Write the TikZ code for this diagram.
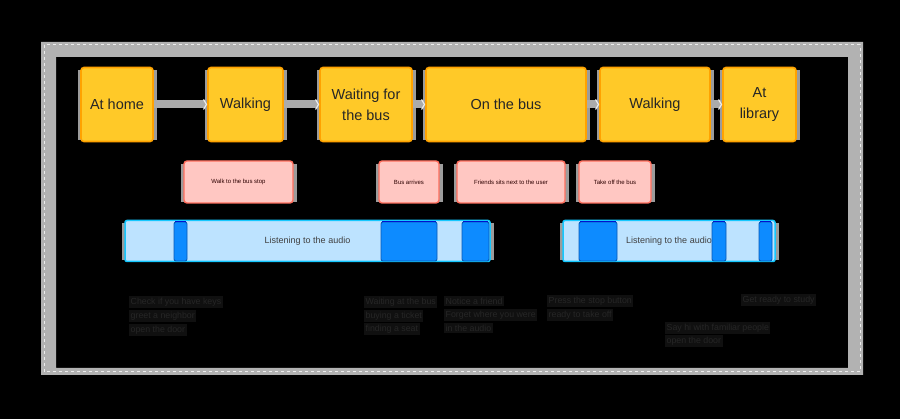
\documentclass[tikz,border=0pt]{standalone}
\usepackage{fontspec}
\setmainfont{Liberation Sans}
\usetikzlibrary{arrows.meta,backgrounds}
\definecolor{ybg}{HTML}{FFC928}
\definecolor{yborder}{HTML}{FFA200}
\definecolor{pbg}{HTML}{FFC7C2}
\definecolor{pborder}{HTML}{FF6F5E}
\definecolor{bbg}{HTML}{BDE3FF}
\definecolor{bborder}{HTML}{14C8FF}
\definecolor{dseg}{HTML}{0D8BFF}
\definecolor{dsegb}{HTML}{0A5AB8}
\definecolor{deepblue}{HTML}{0010D0}
\definecolor{shadowg}{HTML}{9C9C9C}
\definecolor{notebg}{HTML}{101010}
\definecolor{notefg}{HTML}{262626}
\definecolor{connc}{HTML}{ABABAB}
\definecolor{framec}{HTML}{B2B2B2}
\begin{document}
\begin{tikzpicture}[x=1pt,y=-1pt,
  ybox/.style={draw=yborder, line width=1.6pt, fill=ybg, rounded corners=3pt,
    minimum height=74pt, inner sep=2pt, align=center,
    font=\fontsize{14.5}{21}\selectfont, text=black!85},
  pbox/.style={draw=pborder, line width=1.4pt, fill=pbg, rounded corners=3pt,
    minimum height=42pt, inner sep=2pt, font=\fontsize{6}{7}\selectfont, text=black!72!red!60!black},
  bbar/.style={draw=bborder, line width=1.5pt, fill=bbg, rounded corners=2pt,
    minimum height=41pt, inner sep=0pt, font=\fontsize{9}{11}\selectfont, text=black!75},
  seg/.style={draw=dsegb, line width=0.9pt, fill=dseg, rounded corners=2pt,
    minimum height=39pt, inner sep=0pt},
  conn/.style={draw=connc, line width=8pt,
    -{Straight Barb[length=3pt,width=10pt,line width=1.2pt,color=white!85!gray]}},
  note/.style={fill=notebg, text=notefg, font=\fontsize{8.8}{10}\selectfont,
    anchor=west, inner xsep=1.5pt, inner ysep=1.5pt}
]
\useasboundingbox (0,0) rectangle (900,419);

% yellow stages
\node[ybox, minimum width=72pt] (home) at (117,104.5) {At home};
\node[ybox, minimum width=75pt] (walk1) at (245.5,104.5) {Walking};
\node[ybox, minimum width=92pt] (wait) at (366,104.5) {Waiting for\\the bus};
\node[ybox, minimum width=160pt] (onbus) at (506,104.5) {On the bus};
\node[ybox, minimum width=110pt] (walk2) at (655,104.5) {Walking};
\node[ybox, minimum width=73pt] (lib) at (759.5,104.5) {At\\library};

% connectors
\draw[conn] (home) -- (walk1);
\draw[conn] (walk1) -- (wait);
\draw[conn] (wait) -- (onbus);
\draw[conn] (onbus) -- (walk2);
\draw[conn] (walk2) -- (lib);

% pink events
\node[pbox, minimum width=109pt] (stop) at (238.5,182) {Walk to the bus stop};
\node[pbox, minimum width=60pt] (arr) at (409,182) {Bus arrives};
\node[pbox, minimum width=108pt] (friend) at (511,182) {Friends sits next to the user};
\node[pbox, minimum width=72pt] (off) at (615,182) {Take off the bus};

% audio bars
\node[bbar, minimum width=365pt] (bar1) at (307.5,241) {Listening to the audio};
\node[bbar, minimum width=212pt] (bar2) at (669,241) {Listening to the audio};
\node[seg, minimum width=13pt] (s1) at (180.5,241.5) {};
\node[seg, minimum width=56pt] (s2) at (409,241.5) {};
\node[seg, minimum width=27pt] (s3) at (475.5,241.5) {};
\node[seg, minimum width=38pt] (s4) at (598,241.5) {};
\node[seg, minimum width=14pt] (s5) at (719,241.5) {};
\node[seg, minimum width=13pt] (s6) at (765.5,241.5) {};
\foreach \s in {s1,s2,s3,s4,s5,s6}
  \draw[deepblue, line width=1.2pt] ([xshift=1.5pt]\s.north west) -- ([xshift=-1.5pt]\s.north east);

% notes
\node[note] (n1a) at (129,302) {Check if you have keys};
\node[note] (n1b) at (129,316) {greet a neighbor};
\node[note] (n1c) at (129,330) {open the door};
\node[note] (n2a) at (364,302) {Waiting at the bus};
\node[note] (n2b) at (364,316) {buying a ticket};
\node[note] (n2c) at (364,329) {finding a seat};
\node[note] (n3a) at (444,301) {Notice a friend};
\node[note] (n3b) at (444,315) {Forget where you were};
\node[note] (n3c) at (444,328) {in the audio};
\node[note] (n4a) at (547,301) {Press the stop button};
\node[note] (n4b) at (547,315) {ready to take off};
\node[note] (n5a) at (741,300) {Get ready to study};
\node[note] (n6a) at (665,328) {Say hi with familiar people};
\node[note] (n6b) at (665,341) {open the door};

\begin{scope}[on background layer]
  \fill[black] (0,0) rectangle (900,419);
  % frame band
  \fill[framec, even odd rule] (41,42) rectangle (863,375) (56,57) rectangle (848,368);
  \draw[white!85!gray, line width=1pt, dash pattern=on 3pt off 3pt] (44,45) rectangle (860,372);
  \draw[gray!60, line width=0.8pt, dash pattern=on 2pt off 4pt] (52,53) rectangle (852,370.5);
  % selection shadows
  \foreach \n in {home,walk1,wait,onbus,walk2,lib,stop,arr,friend,off,bar1,bar2}
    \fill[shadowg] ([shift={(-2.5pt,-3.5pt)}]\n.north west) rectangle ([shift={(3pt,2pt)}]\n.south east);
\end{scope}
\end{tikzpicture}
\end{document}
